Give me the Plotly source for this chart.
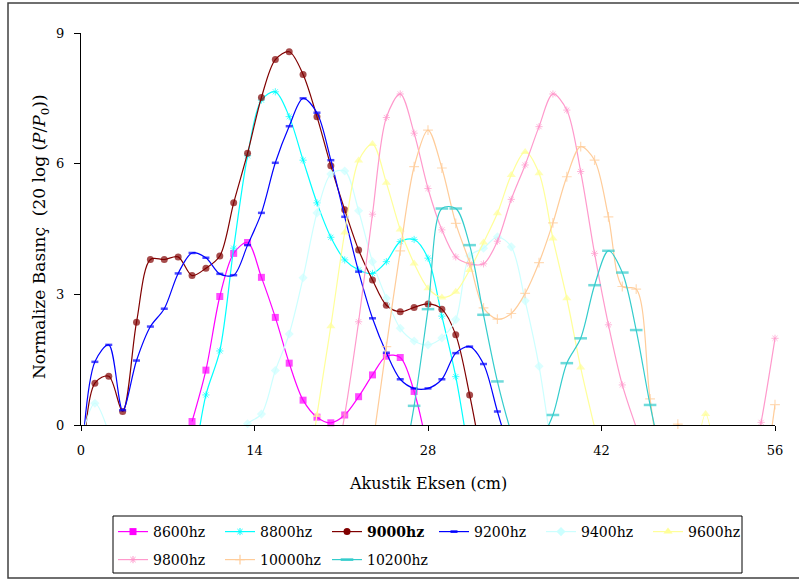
import plotly.graph_objects as go

N = None
# Acoustic axis positions (cm)
x_cm = [0.0, 1.12, 2.24, 3.36, 4.48, 5.6, 6.72, 7.84, 8.96, 10.08,
        11.2, 12.32, 13.44, 14.56, 15.68, 16.8, 17.92, 19.04, 20.16, 21.28,
        22.4, 23.52, 24.64, 25.76, 26.88, 28.0, 29.12, 30.24, 31.36, 32.48,
        33.6, 34.72, 35.84, 36.96, 38.08, 39.2, 40.32, 41.44, 42.56, 43.68,
        44.8, 45.92, 47.04, 48.16, 49.28, 50.4, 51.52, 52.64, 53.76, 54.88, 56.0]

hz8600 = [N]*8 + [0.08, 1.26, 2.95, 3.94, 4.19, 3.39, 2.47, 1.42, 0.57, 0.18, 0.05, 0.23,
                  0.65, 1.15, 1.58, 1.55, 0.77, -0.6] + [N]*25
hz8800 = [N]*8 + [-1.2, 0.69, 1.70, 4.06, 6.18, 7.46, 7.65, 7.08, 6.08, 5.10, 4.31, 3.79,
                  3.56, 3.48, 3.75, 4.21, 4.26, 3.83, 2.5, 1.11, -0.8] + [N]*22
hz9000 = [-1.8, 0.96, 1.12, 0.31, 2.36, 3.80, 3.80, 3.86, 3.43, 3.60, 3.88, 5.10, 6.24, 7.52,
          8.39, 8.57, 8.05, 7.08, 5.95, 4.94, 4.02, 3.33, 2.75, 2.60, 2.70, 2.78, 2.66, 2.07,
          0.69, -1.0] + [N]*21
hz9200 = [-1.0, 1.45, 1.84, 0.34, 1.48, 2.26, 2.67, 3.48, 3.95, 3.84, 3.47, 3.44, 4.13, 4.87,
          6.02, 6.86, 7.5, 7.17, 6.08, 4.78, 3.52, 2.45, 1.66, 1.05, 0.84, 0.84, 1.05, 1.65,
          1.80, 1.40, 0.31, -0.76] + [N]*19
hz9400 = [-0.35, 0.5, -0.18] + [N]*8 + [-0.5, 0.03, 0.25, 1.25, 2.09, 3.38, 4.87, 5.76, 5.83,
          4.92, 3.75, 2.91, 2.22, 1.93, 1.84, 2.0, 2.42, 3.88, 4.06, 4.32, 4.09, 2.85, 1.35,
          -0.8] + [N]*16
hz9600 = [N]*16 + [-2.0, 0.23, 2.27, 4.42, 6.07, 6.45, 5.56, 4.49, 3.71, 3.14, 2.93, 3.06,
                   3.56, 4.19, 4.86, 5.74, 6.27, 5.78, 4.28, 2.91, 1.32, -0.05] + [N]*6 + \
         [-1.5, 0.25, -1.5] + [N]*4
hz9800 = [N]*18 + [-1.5, 0.23, 2.37, 4.84, 7.06, 7.6, 6.70, 5.43, 4.48, 3.86, 3.70, 3.70,
                   4.22, 5.18, 5.97, 6.85, 7.6, 7.23, 5.82, 3.94, 2.30, 0.92, -0.05] + [N]*7 + \
         [-1.5, 0.06, 1.99]
hz10000 = [N]*21 + [-0.5, 1.8, 4.0, 5.93, 6.77, 5.90, 4.63, 3.73, 2.69, 2.43, 2.56, 3.02,
                    3.73, 4.64, 5.70, 6.39, 6.08, 4.78, 3.18, 3.12, 0.6, -1.2, 0.02, -1.0] + \
          [N]*4 + [-1.9, 0.47]
hz10200 = [N]*23 + [-1.3, 0.44, 2.66, 4.97, 4.97, 4.13, 2.53, 1.0, -0.17, -1.0, -0.45, 0.23,
                    1.42, 1.99, 3.21, 4.0, 3.50, 2.18, 0.46, -1.0] + [N]*8

series_names = ["8600hz", "8800hz", "<b>9000hz</b>", "9200hz", "9400hz", "9600hz",
                "9800hz", "10000hz", "10200hz"]
series_vals = [hz8600, hz8800, hz9000, hz9200, hz9400, hz9600, hz9800, hz10000, hz10200]
colors = ["#FF00FF", "#00FFFF", "#800000", "#0000FF", "#CCFFFF", "#FFFF99",
          "#FF99CC", "#FFCC99", "#33CCCC"]
symbols = ["square", "asterisk-open", "circle", "line-ew-open", "diamond", "triangle-up",
           "asterisk-open", "cross-thin-open", "line-ew-open"]
msizes = [7, 6, 7, 5, 7, 8, 6, 7, 9]
mlw = [0, 1.0, 0, 2.5, 0, 0, 1.0, 1.2, 2.5]

FONT = "DejaVu Serif, Liberation Serif, serif"
fig = go.Figure()

for i, (nm, vals) in enumerate(zip(series_names, series_vals)):
    sizes = [msizes[i] if (v is not None and v >= 0) else 0 for v in vals]
    fig.add_trace(go.Scatter(
        x=x_cm, y=vals, mode="lines+markers", showlegend=False, cliponaxis=False,
        line=dict(color=colors[i], width=1.2, shape="spline", smoothing=0.9),
        marker=dict(symbol=symbols[i], size=sizes, color=colors[i],
                    line=dict(color=colors[i], width=mlw[i])),
        connectgaps=False, hoverinfo="skip"))
    # legend entry
    fig.add_trace(go.Scatter(
        x=[-100], y=[-100], mode="lines+markers", name=nm,
        legend="legend" if i < 6 else "legend2",
        line=dict(color=colors[i], width=1.2),
        marker=dict(symbol=symbols[i], size=msizes[i], color=colors[i],
                    line=dict(color=colors[i], width=mlw[i]))))

L, R, T, B = 81, 24, 33, 156
W, H = 799, 581
PW, PH = W - L - R, H - T - B


def px(xp):
    return (xp - L) / PW


def py(yp):
    return (H - B - yp) / PH


leg_common = dict(orientation="h", xanchor="left", yanchor="middle",
                  entrywidth=62, entrywidthmode="pixels", bgcolor="rgba(0,0,0,0)",
                  borderwidth=0, font=dict(family=FONT, size=14, color="black"),
                  itemclick=False, itemdoubleclick=False)

fig.update_layout(
    width=W, height=H,
    margin=dict(l=L, r=R, t=T, b=B, autoexpand=False),
    paper_bgcolor="white", plot_bgcolor="white",
    font=dict(family=FONT, size=14, color="black"),
    legend=dict(x=px(113), y=py(532), **leg_common),
    legend2=dict(x=px(113), y=py(560), **leg_common),
    xaxis=dict(range=[0, 56], tickvals=[0, 14, 28, 42, 56], showgrid=False, zeroline=False,
               showline=True, linecolor="black", linewidth=1.3, ticks="outside", ticklen=5,
               tickcolor="black", tickwidth=1.3, ticklabelstandoff=8,
               tickfont=dict(family=FONT, size=13)),
    yaxis=dict(range=[0, 9], tickvals=[0, 3, 6, 9], showgrid=False, zeroline=False,
               showline=True, linecolor="black", linewidth=1.3, ticks="outside", ticklen=6,
               tickcolor="black", tickwidth=1.3, ticklabelstandoff=7,
               tickfont=dict(family=FONT, size=13)),
    shapes=[
        dict(type="rect", xref="paper", yref="paper", x0=px(113), x1=px(742),
             y0=py(573), y1=py(516), line=dict(color="black", width=1)),
        dict(type="rect", xref="paper", yref="paper", x0=px(8), x1=px(805),
             y0=py(578), y1=py(3), line=dict(color="#404040", width=1.5)),
    ],
    annotations=[
        dict(text="Akustik Eksen (cm)", xref="paper", yref="paper", x=px(428), y=py(483),
             xanchor="center", yanchor="middle", showarrow=False,
             font=dict(family=FONT, size=16, color="black")),
        dict(text="Normalize Basınç&nbsp; (20 log (<i>P</i>/<i>P</i><sub>0</sub>))",
             xref="paper", yref="paper", x=px(40), y=py(237), textangle=-90,
             xanchor="center", yanchor="middle", showarrow=False,
             font=dict(family=FONT, size=17, color="black")),
    ],
)

fig.write_html("out.html", config={"displayModeBar": False},
               post_script="document.body.style.margin='0';")
